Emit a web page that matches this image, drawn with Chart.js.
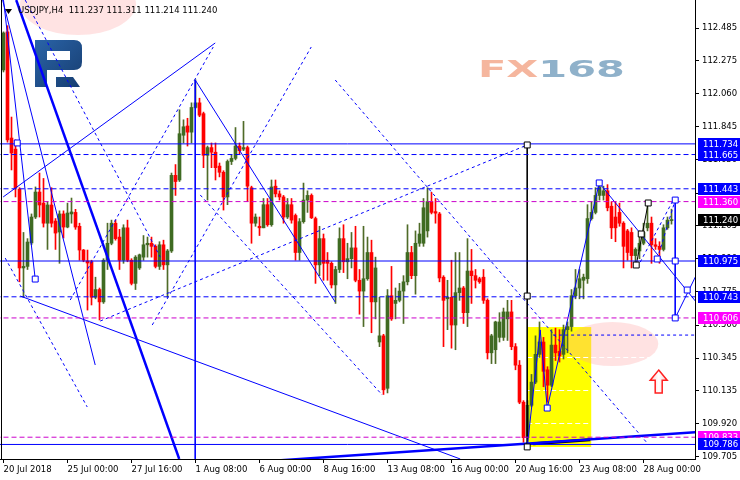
<!DOCTYPE html>
<html>
<head>
<meta charset="utf-8">
<script src="https://cdn.jsdelivr.net/npm/chart.js@4.4.0/dist/chart.umd.min.js"></script>
<style>
html, body { margin: 0; padding: 0; background: #fff; }
</style>
</head>
<body>
<canvas id="chart" width="740" height="480"></canvas>
<script>
// USDJPY H4 candles, one entry per bar (bar 0 = 20 Jul 2018)
const openP = [112.213,112.46,111.772,111.70,111.44,110.93,110.94,111.092,111.26,111.422,111.35,111.22,111.338,111.234,111.163,111.28,111.195,111.28,111.29,111.20,
111.046,110.975,110.97,110.74,110.79,110.71,110.98,111.09,111.22,111.13,110.98,111.19,110.98,110.83,110.93,111.00,111.08,111.09,111.07,110.94,
111.08,110.95,111.04,111.53,111.50,111.79,111.85,111.81,111.97,112.00,111.93,111.66,111.71,111.68,111.59,111.55,111.39,111.62,111.64,111.72,
111.70,111.71,111.45,111.22,111.20,111.19,111.34,111.21,111.46,111.41,111.39,111.26,111.34,111.27,111.03,111.23,111.37,111.40,111.25,110.95,
111.12,110.98,110.96,110.82,110.92,111.12,110.97,110.99,111.06,110.85,110.78,110.86,111.03,110.71,110.45,110.49,110.15,110.75,110.70,110.72,
110.78,110.84,111.03,110.88,111.09,111.09,111.17,111.36,111.295,111.28,110.87,110.73,110.74,110.56,110.77,110.80,110.64,110.91,110.88,110.86,
110.87,110.72,110.38,110.40,110.48,110.48,110.60,110.645,110.42,110.30,110.06,109.83,110.04,110.19,110.37,110.45,110.27,110.17,110.43,110.39,
110.37,110.53,110.55,110.75,110.80,110.85,110.86,111.25,111.29,111.40,111.40,111.43,111.33,111.26,111.29,111.22,111.17,111.16,111.01,111.04,
111.09,111.19,111.22,111.08,111.07,111.05,111.19,111.237];
const highP = [112.46,112.50,111.908,111.76,111.45,111.16,111.12,111.28,111.455,111.545,111.51,111.36,111.45,111.25,111.30,111.30,111.35,111.383,111.31,111.22,
111.05,111.046,110.98,110.87,110.80,110.99,111.22,111.24,111.24,111.18,111.21,111.24,110.99,111.01,111.02,111.14,111.13,111.13,111.08,111.10,
111.11,111.05,111.545,111.60,111.955,111.89,111.90,112.00,112.15,112.03,111.94,111.72,111.74,111.74,111.61,111.56,111.63,111.66,111.84,111.74,
111.88,111.72,111.46,111.28,111.26,111.38,111.38,111.50,111.50,111.43,111.40,111.38,111.38,111.28,111.25,111.48,111.43,111.41,111.26,111.20,
111.15,111.03,110.97,110.94,111.19,111.21,111.09,111.16,111.20,110.92,111.20,111.13,111.11,111.00,110.74,110.50,110.79,110.94,110.80,110.83,
110.88,111.21,111.07,111.17,111.22,111.38,111.45,111.42,111.38,111.29,110.88,110.85,110.98,111.03,111.03,110.81,111.12,111.05,110.92,110.87,
110.92,110.73,110.50,110.585,110.64,110.67,110.72,110.72,110.44,110.33,110.07,110.07,110.24,110.49,110.58,110.48,110.29,110.53,110.54,110.53,
110.56,110.58,110.79,110.92,110.92,110.89,111.34,111.36,111.45,111.49,111.46,111.47,111.36,111.36,111.35,111.23,111.18,111.19,111.06,111.17,
111.22,111.36,111.26,111.12,111.10,111.21,111.26,111.311];
const lowP = [112.20,111.745,111.565,111.39,110.84,110.74,110.92,111.08,111.25,111.26,111.195,111.05,111.195,111.05,110.96,111.124,111.19,111.22,111.18,110.98,
110.97,110.657,110.69,110.73,110.593,110.70,110.92,111.08,111.11,110.92,110.96,110.97,110.82,110.79,110.92,110.98,111.00,111.00,110.93,110.92,
110.92,110.74,111.03,111.40,111.49,111.74,111.72,111.74,111.965,111.91,111.58,111.37,111.58,111.50,111.52,111.305,111.34,111.60,111.63,111.67,
111.69,111.36,111.09,111.20,111.14,111.19,111.20,111.20,111.39,111.37,111.22,111.25,111.22,110.98,110.98,111.22,111.29,111.25,110.83,110.88,
110.85,110.85,110.80,110.70,110.90,110.90,110.86,110.93,110.84,110.63,110.55,110.85,110.51,110.60,110.42,110.11,110.12,110.59,110.60,110.71,
110.57,110.82,110.86,110.76,111.07,111.07,111.13,111.28,111.22,110.84,110.42,110.53,110.41,110.40,110.72,110.57,110.55,110.70,110.80,110.83,
110.70,110.34,110.31,110.31,110.45,110.46,110.46,110.40,110.27,110.05,109.80,109.775,110.03,110.18,110.35,110.16,110.06,110.16,110.33,110.32,
110.34,110.38,110.52,110.73,110.73,110.73,110.83,111.24,111.28,111.37,111.37,111.30,111.12,111.10,111.20,110.93,110.98,110.93,110.96,110.99,
111.08,111.17,110.96,111.05,110.96,111.04,111.18,111.214];
const closeP = [112.453,111.76,111.675,111.448,110.93,110.94,111.098,111.26,111.422,111.338,111.22,111.338,111.22,111.156,111.28,111.195,111.286,111.293,111.195,111.046,
110.98,110.962,110.74,110.79,110.71,110.98,111.09,111.22,111.12,110.98,111.19,110.98,110.83,111.00,111.015,111.08,111.09,111.07,110.94,111.08,
110.95,111.04,111.53,111.49,111.80,111.845,111.81,111.97,112.00,111.92,111.66,111.71,111.68,111.58,111.55,111.39,111.62,111.64,111.72,111.69,
111.71,111.46,111.22,111.26,111.19,111.34,111.21,111.455,111.41,111.39,111.26,111.34,111.24,111.03,111.23,111.37,111.40,111.255,110.95,111.12,
110.96,110.96,110.82,110.92,111.12,110.97,110.99,111.06,110.85,110.78,110.86,111.03,110.71,110.93,110.49,110.14,110.75,110.60,110.72,110.78,
110.84,111.03,110.88,111.09,111.15,111.32,111.36,111.29,111.285,110.865,110.72,110.74,110.56,110.77,110.80,110.64,110.91,110.88,110.85,110.84,
110.72,110.38,110.49,110.58,110.58,110.645,110.645,110.42,110.30,110.06,109.83,110.04,110.19,110.37,110.45,110.26,110.17,110.43,110.38,110.36,
110.53,110.55,110.75,110.80,110.86,110.87,111.25,111.29,111.40,111.455,111.43,111.32,111.19,111.19,111.22,111.07,111.03,111.01,111.05,111.09,
111.16,111.22,111.08,111.07,111.05,111.19,111.24,111.240];

// time axis labels and the bars they sit on
const timeLabels = ['20 Jul 2018', '25 Jul 00:00', '27 Jul 16:00', '1 Aug 08:00', '6 Aug 00:00', '8 Aug 16:00',
                    '13 Aug 08:00', '16 Aug 00:00', '20 Aug 16:00', '23 Aug 08:00', '28 Aug 00:00'];
const timeTickBars = [0, 16, 32, 48, 64, 80, 96, 112, 128, 144, 160];

// price axis tick labels
const priceTicks = [112.485, 112.275, 112.060, 111.845, 111.630, 111.415, 111.205, 110.990, 110.775, 110.560, 110.345, 110.135, 109.920, 109.705];

// horizontal levels
const levelPrices = [111.734, 111.665, 111.443, 111.360, 110.975, 110.743, 110.606, 109.833, 109.786];
const levelKinds  = ['blue', 'blueDash', 'blueDash', 'magDash', 'blue', 'blueDash', 'magDash', 'magDash', 'blue'];

// trend lines [bar1, price1, bar2, price2]
const thickLines = [[3.18, 112.666, 43.93, 109.692], [66.68, 109.679, 174.18, 109.867]];
const thickBlack = [[132.43, 109.790, 146.68, 109.816]];
const thinLines = [
    [0, 112.666, 7.93, 110.858],
    [-0.22, 112.666, 22.93, 110.301],
    [-0.08, 111.390, 52.93, 112.388],
    [47.93, 112.148, 82.93, 110.709],
    [4.18, 110.748, 114.18, 109.692],
    [47.93, 112.148, 47.93, 109.692],
    [130.93, 109.770, 134.18, 110.528],
    [134.18, 110.528, 135.93, 110.022],
    [135.93, 110.022, 142.43, 110.755],
    [142.43, 110.755, 148.93, 111.481],
    [148.93, 111.481, 174.18, 110.677],
    [167.93, 111.370, 167.93, 110.606],
    [167.93, 110.606, 174.18, 110.936]
];
const blackLines = [[130.93, 111.727, 130.93, 109.770], [158.18, 110.949, 161.18, 111.351]];
const dashLines = [
    [5.43, 112.666, 39.18, 111.001],
    [0.43, 110.994, 20.93, 110.029],
    [16.68, 110.722, 52.43, 112.362],
    [37.18, 110.560, 76.93, 112.362],
    [82.93, 112.148, 160.93, 109.795],
    [49.18, 111.403, 94.68, 110.107],
    [24.18, 110.586, 130.93, 111.727],
    [159.18, 110.968, 167.43, 111.370],
    [163.43, 110.988, 167.93, 111.370],
    [137.4, 110.495, 175, 110.495]
];
const whiteDash = [
    [130.93, 110.353, 163.5, 110.353],
    [130.93, 110.139, 146.93, 110.139],
    [130.93, 109.925, 146.93, 109.925]
];
const blueSquares = [[3.43, 111.740], [7.93, 110.858], [135.93, 110.022], [148.93, 111.481],
                     [163.43, 110.988], [170.93, 110.787], [167.93, 111.370], [167.93, 110.975], [167.93, 110.606]];
const blackSquares = [[130.93, 111.727], [130.93, 110.748], [130.93, 109.770],
                      [158.18, 110.949], [159.43, 111.150], [161.18, 111.351]];

// yellow box [bar1, price1, bar2, price2], ellipse [bar, price, halfBars, halfPrice], arrow [bar, topPrice, bottomPrice]
const yellowBox = [130.93, 110.547, 146.93, 109.770];
const pinkOval = [152.2, 110.437, 11.5, 0.143];
const upArrow = [163.8, 110.268, 110.12];

const BLUE = '#0000ff';
const MAG = '#cc00cc';
const FONT = '"DejaVu Sans", sans-serif';

Chart.defaults.font.family = FONT;
Chart.defaults.font.size = 8.5;
Chart.defaults.color = '#000';

const bars = openP.map((o, i) => i);
const up = i => closeP[i] >= openP[i];

function seg(a, color, width, dash) {
    return {
        type: 'line',
        data: [{ x: a[0], y: a[1] }, { x: a[2], y: a[3] }],
        borderColor: color,
        borderWidth: width,
        borderDash: dash || [],
        pointRadius: 0,
        fill: false,
        order: 0
    };
}

const lineSets = [];
levelPrices.forEach((p, k) => {
    const kind = levelKinds[k];
    const color = kind === 'magDash' ? MAG : BLUE;
    lineSets.push(seg([-2, p, 176, p], color, 1, kind === 'blue' ? [] : [5, 3]));
});
thinLines.forEach(a => lineSets.push(seg(a, BLUE, 1)));
blackLines.forEach(a => lineSets.push(seg(a, '#000', 1)));
dashLines.forEach(a => lineSets.push(seg(a, BLUE, 1, [3, 3])));
thickLines.forEach(a => lineSets.push(seg(a, BLUE, 2.5)));
thickBlack.forEach(a => lineSets.push(seg(a, '#000', 3)));

function squares(list, color) {
    return {
        type: 'scatter',
        data: list.map(s => ({ x: s[0], y: s[1] })),
        pointStyle: 'rect',
        pointRadius: 4.2,
        pointBackgroundColor: '#fff',
        pointBorderColor: color,
        pointBorderWidth: 1,
        order: -1
    };
}

// no extra room for the first/last tick labels: chart area runs to the edges
function noPad(s) {
    s.paddingTop = 0; s.paddingBottom = 0; s.paddingLeft = 0; s.paddingRight = 0;
}

const decor = {
    id: 'decor',
    beforeDatasetsDraw(chart) {
        const ctx = chart.ctx, xs = chart.scales.x, ys = chart.scales.y, a = chart.chartArea;
        ctx.save();
        ctx.beginPath();
        ctx.rect(a.left, a.top, a.right - a.left, a.bottom - a.top);
        ctx.clip();

        // pink glow behind title
        ctx.fillStyle = 'rgba(255,185,185,0.4)';
        ctx.beginPath();
        ctx.ellipse(78, 4, 58, 31, 0, 0, Math.PI * 2);
        ctx.fill();

        // R logo
        const g = ctx.createLinearGradient(35, 40, 82, 87);
        g.addColorStop(0, '#2a64a8');
        g.addColorStop(1, '#173d70');
        ctx.fillStyle = g;
        ctx.beginPath();
        ctx.moveTo(35, 40); ctx.lineTo(74, 40);
        ctx.quadraticCurveTo(82, 40, 82, 48); ctx.lineTo(82, 62);
        ctx.quadraticCurveTo(82, 70, 74, 70); ctx.lineTo(47, 70);
        ctx.lineTo(47, 87); ctx.lineTo(35, 87); ctx.closePath();
        ctx.moveTo(47, 51); ctx.lineTo(47, 60); ctx.lineTo(70, 60); ctx.lineTo(70, 51); ctx.closePath();
        ctx.fill('evenodd');
        ctx.beginPath();
        ctx.moveTo(56, 77); ctx.lineTo(73, 77); ctx.lineTo(80, 87); ctx.lineTo(56, 87); ctx.closePath();
        ctx.fill();

        // FX168 watermark
        ctx.font = 'bold 23px ' + FONT;
        ctx.textBaseline = 'alphabetic';
        const wFX = ctx.measureText('FX').width, wAll = ctx.measureText('FX168').width;
        const sx = 147 / wAll;
        ctx.save();
        ctx.translate(478, 77);
        ctx.scale(sx, 1);
        ctx.fillStyle = '#f5b69e';
        ctx.fillText('FX', 0, 0);
        ctx.fillStyle = '#8fb1ca';
        ctx.fillText('168', wFX, 0);
        ctx.restore();

        // yellow box
        const bx1 = xs.getPixelForValue(yellowBox[0]), bx2 = xs.getPixelForValue(yellowBox[2]);
        const by1 = ys.getPixelForValue(yellowBox[1]), by2 = ys.getPixelForValue(yellowBox[3]);
        ctx.fillStyle = '#ffff00';
        ctx.fillRect(bx1, by1, bx2 - bx1, by2 - by1);

        // pink ellipse
        const ex = xs.getPixelForValue(pinkOval[0]), ey = ys.getPixelForValue(pinkOval[1]);
        const erx = xs.getPixelForValue(pinkOval[0] + pinkOval[2]) - ex;
        const ery = ys.getPixelForValue(pinkOval[1] - pinkOval[3]) - ey;
        ctx.fillStyle = 'rgba(255,160,160,0.3)';
        ctx.beginPath();
        ctx.ellipse(ex, ey, erx, ery, 0, 0, Math.PI * 2);
        ctx.fill();

        // white dashed levels inside the box
        ctx.strokeStyle = '#fff';
        ctx.lineWidth = 1;
        ctx.setLineDash([5, 3]);
        whiteDash.forEach(w => {
            const y = Math.round(ys.getPixelForValue(w[1])) + 0.5;
            ctx.beginPath();
            ctx.moveTo(xs.getPixelForValue(w[0]), y);
            ctx.lineTo(xs.getPixelForValue(w[2]), y);
            ctx.stroke();
        });
        ctx.restore();
    },
    afterDatasetsDraw(chart) {
        const ctx = chart.ctx, xs = chart.scales.x, ys = chart.scales.y;
        // up arrow
        const cx = xs.getPixelForValue(upArrow[0]);
        const top = ys.getPixelForValue(upArrow[1]), bot = ys.getPixelForValue(upArrow[2]);
        const head = (bot - top) * 0.45;
        ctx.save();
        const g = ctx.createLinearGradient(cx - 8, 0, cx + 8, 0);
        g.addColorStop(0, '#ffd0d0');
        g.addColorStop(0.5, '#ffffff');
        g.addColorStop(1, '#ffd0d0');
        ctx.fillStyle = g;
        ctx.strokeStyle = '#ff2020';
        ctx.lineWidth = 1.5;
        ctx.beginPath();
        ctx.moveTo(cx, top);
        ctx.lineTo(cx + 8.5, top + head);
        ctx.lineTo(cx + 3.5, top + head);
        ctx.lineTo(cx + 3.5, bot);
        ctx.lineTo(cx - 3.5, bot);
        ctx.lineTo(cx - 3.5, top + head);
        ctx.lineTo(cx - 8.5, top + head);
        ctx.closePath();
        ctx.fill();
        ctx.stroke();
        ctx.restore();
    },
    afterDraw(chart) {
        const ctx = chart.ctx, ys = chart.scales.y, a = chart.chartArea;
        ctx.save();
        // left frame
        ctx.strokeStyle = '#000';
        ctx.lineWidth = 1;
        ctx.beginPath();
        ctx.moveTo(a.left + 1.5, a.top);
        ctx.lineTo(a.left + 1.5, a.bottom);
        ctx.stroke();

        // title
        const last = openP.length - 1;
        ctx.fillStyle = '#000';
        ctx.beginPath();
        ctx.moveTo(5, 9); ctx.lineTo(12, 9); ctx.lineTo(8.5, 14); ctx.closePath();
        ctx.fill();
        ctx.font = '8.5px ' + FONT;
        ctx.textBaseline = 'middle';
        ctx.textAlign = 'left';
        ctx.fillText('USDJPY,H4  ' + [openP[last], highP[last], lowP[last], closeP[last]].map(v => v.toFixed(3)).join(' '), 18, 11);

        // price tags on the axis
        const tags = levelPrices.map((p, k) => [p, levelKinds[k] === 'magDash' ? '#ff00ff' : BLUE]);
        tags.splice(4, 0, [closeP[last], '#000']);
        tags.forEach(t => {
            const y = Math.round(ys.getPixelForValue(t[0]));
            ctx.fillStyle = t[1];
            ctx.fillRect(a.right + 3, y - 6, 45, 12);
            ctx.fillStyle = '#fff';
            ctx.fillText(t[0].toFixed(3), a.right + 8, y + 0.5);
        });
        ctx.restore();
    }
};

new Chart(document.getElementById('chart'), {
    type: 'bar',
    data: {
        datasets: [
            ...lineSets,
            squares(blueSquares, BLUE),
            squares(blackSquares, '#000'),
            {
                type: 'bar',
                label: 'body',
                data: bars.map(i => ({ x: i, y: [openP[i], closeP[i]] })),
                backgroundColor: bars.map(i => up(i) ? '#3f6b22' : '#ff0000'),
                barThickness: 3,
                minBarLength: 1,
                grouped: false,
                order: 1
            },
            {
                type: 'bar',
                label: 'wick',
                data: bars.map(i => ({ x: i, y: [lowP[i], highP[i]] })),
                backgroundColor: bars.map(i => up(i) ? '#4f6b28' : '#ff0000'),
                barThickness: 1,
                grouped: false,
                order: 2
            }
        ]
    },
    options: {
        responsive: false,
        devicePixelRatio: 1,
        animation: false,
        layout: { padding: 0, autoPadding: false },
        plugins: { legend: { display: false }, tooltip: { enabled: false }, title: { display: false } },
        scales: {
            x: {
                type: 'linear',
                min: -0.875,
                max: 172.875,
                offset: false,
                afterBuildTicks: s => { s.ticks = timeTickBars.map(v => ({ value: v })); },
                afterFit: s => { s.height = 21; noPad(s); },
                ticks: {
                    autoSkip: false,
                    maxRotation: 0,
                    align: 'start',
                    padding: 2,
                    color: '#000',
                    callback: (v, i) => timeLabels[i]
                },
                grid: { drawOnChartArea: false, drawTicks: true, tickLength: 4, color: '#000', offset: false },
                border: { display: true, color: '#000' }
            },
            y: {
                type: 'linear',
                position: 'right',
                min: 109.6918,
                max: 112.6665,
                afterBuildTicks: s => { s.ticks = priceTicks.map(v => ({ value: v })); },
                afterFit: s => { s.width = 45; noPad(s); },
                ticks: { padding: 3, color: '#000', callback: v => v.toFixed(3) },
                grid: { drawOnChartArea: false, drawTicks: true, tickLength: 4, color: '#000' },
                border: { display: true, color: '#000' }
            }
        }
    },
    plugins: [decor]
});
</script>
</body>
</html>
